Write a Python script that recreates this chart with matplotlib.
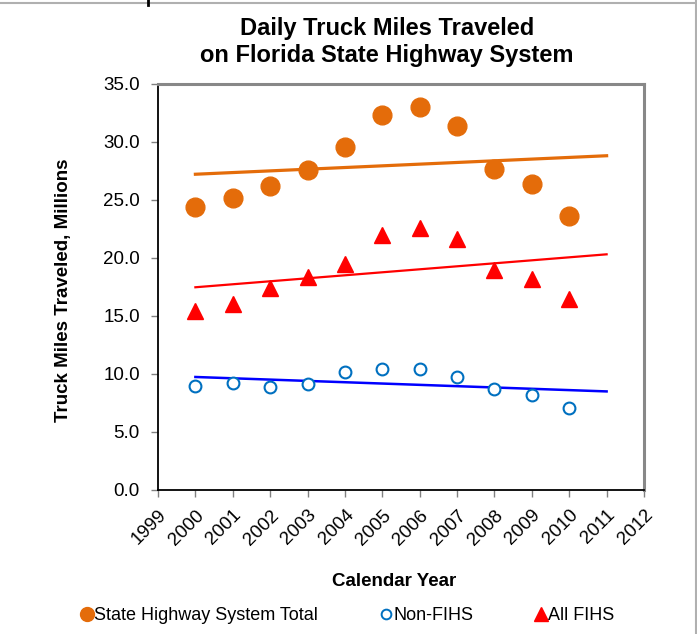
import numpy as np
import matplotlib
matplotlib.use("Agg")
import matplotlib.pyplot as plt
from matplotlib.lines import Line2D

plt.rcParams['font.family'] = ['Liberation Sans', 'DejaVu Sans']

#%% data (millions of truck miles per day)
years = [2000, 2001, 2002, 2003, 2004, 2005, 2006, 2007, 2008, 2009, 2010]
fihs = [15.4, 16.0, 17.4, 18.4, 19.45, 21.95, 22.6, 21.65, 18.95, 18.15, 16.5]
non_fihs = [9.0, 9.2, 8.85, 9.15, 10.15, 10.4, 10.45, 9.75, 8.7, 8.2, 7.1]
shs_total = [24.4, 25.2, 26.25, 27.55, 29.6, 32.35, 33.05, 31.4, 27.65, 26.35, 23.6]

x_ticks = list(range(1999, 2013))
y_ticks = [0, 5, 10, 15, 20, 25, 30, 35]

orange = '#E46C0A'
blue_pt = '#0070C0'

#%% figure
fig = plt.figure(figsize=(6.97, 6.34), dpi=100)
ax = fig.add_axes([158/697, 1 - 490/634, (644 - 158)/697, (490 - 84)/634])

x = np.array(years, dtype=float)
xt = np.array([2000, 2011], dtype=float)

# linear trend lines, extended one year forward
for vals, col, lw in [(shs_total, orange, 2.3), (fihs, 'red', 1.6), (non_fihs, 'blue', 1.8)]:
    p = np.polyfit(x, vals, 1)
    ax.plot(xt, np.polyval(p, xt), color=col, lw=lw, zorder=2)

ax.plot(years, shs_total, 'o', color=orange, ms=13.5, mec=orange, zorder=3)
ax.plot(years, non_fihs, 'o', mfc='white', mec=blue_pt, mew=1.5, ms=8.5, zorder=3)
ax.plot(years, fihs, '^', color='red', ms=12, zorder=3)

ax.set_xlim(1999, 2012)
ax.set_ylim(0, 35)
ax.set_xticks(x_ticks)
ax.set_yticks(y_ticks)
ax.set_yticklabels(["%.1f" % v for v in y_ticks], fontsize=13.5)
ax.set_xticklabels([str(v) for v in x_ticks], fontsize=13.5, rotation=45,
                   ha='right', rotation_mode='anchor')
ax.tick_params(direction='out', length=5, color='#808080', width=1)
ax.tick_params(axis='y', pad=8)
ax.tick_params(axis='x', pad=7)

for s in ['left', 'bottom']:
    ax.spines[s].set_color('black')
    ax.spines[s].set_linewidth(1.3)
for s in ['top', 'right']:
    ax.spines[s].set_color('#888888')
    ax.spines[s].set_linewidth(2.2)

#%% text
fig.text(387/697, 1 - 42/634, "Daily Truck Miles Traveled\non Florida State Highway System",
         ha='center', va='center', fontsize=17, fontweight='bold', linespacing=1.2)
fig.text(394/697, 1 - 582/634, "Calendar Year", ha='center', va='center',
         fontsize=13.5, fontweight='bold')
fig.text(64/697, 1 - 290/634, "Truck Miles Traveled, Millions", ha='center', va='center',
         rotation=90, fontsize=13.5, fontweight='bold')

handles = [
    Line2D([], [], ls='none', marker='o', color=orange, ms=10),
    Line2D([], [], ls='none', marker='o', mfc='white', mec=blue_pt, mew=1.4, ms=7),
    Line2D([], [], ls='none', marker='^', color='red', ms=10),
]
fig.legend(handles, ["State Highway System Total", "Non-FIHS", "All FIHS"],
           loc='center', bbox_to_anchor=(348/697, 1 - 616/634), ncol=3, frameon=False,
           fontsize=13, handlelength=0.6, handletextpad=0.1, columnspacing=3.45)

# outer frame pieces
fig.add_artist(Line2D([0, 1], [1 - 2.5/634, 1 - 2.5/634], color='#b0b0b0', lw=1.5))
fig.add_artist(Line2D([1 - 1.5/697, 1 - 1.5/697], [0, 1], color='#b0b0b0', lw=1.5))
fig.add_artist(Line2D([148/697, 148/697], [1, 1 - 5/634], color='black', lw=2))

fig.savefig('out.png', dpi=100)
